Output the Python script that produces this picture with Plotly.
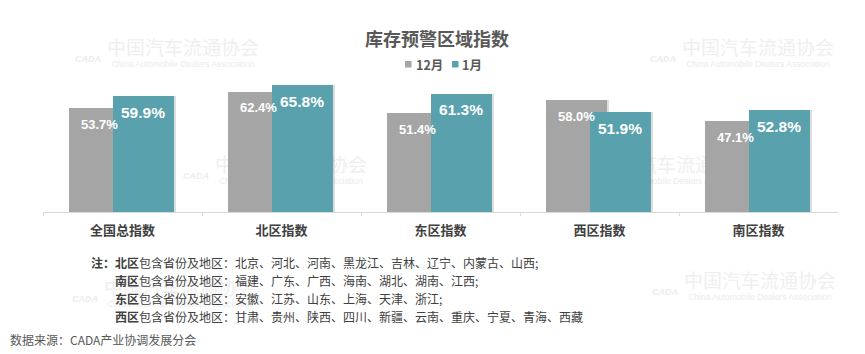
import plotly.graph_objects as go

W, H = 865, 354

# ---------------- data ----------------
categories = ["全国总指数", "北区指数", "东区指数", "西区指数", "南区指数"]
series_names = ["12月", "1月"]
values_dec = [53.7, 62.4, 51.4, 58.0, 47.1]
values_jan = [59.9, 65.8, 61.3, 51.9, 52.8]

title_text = "库存预警区域指数"
note_lines = [
    ("注：", "北区", "包含省份及地区：北京、河北、河南、黑龙江、吉林、辽宁、内蒙古、山西;"),
    ("", "南区", "包含省份及地区：福建、广东、广西、海南、湖北、湖南、江西;"),
    ("", "东区", "包含省份及地区：安徽、江苏、山东、上海、天津、浙江;"),
    ("", "西区", "包含省份及地区：甘肃、贵州、陕西、四川、新疆、云南、重庆、宁夏、青海、西藏"),
]
source_text = "数据来源：CADA产业协调发展分会"

# ---------------- styles ----------------
GRAY = "#A5A5A5"
TEAL = "#5AA1AE"
TXT = "#404040"
CJK = "Noto Sans CJK SC, Noto Sans, sans-serif"
NUM = "Liberation Sans, Arial, sans-serif"

# bar geometry (category units)
BAR_W = 0.384
OFF_DEC = -0.336
OFF_JAN = -0.060
SHADOW = 0.014

fig = go.Figure()

# ---- watermark layer (subplot xy, drawn beneath bars) ----
wm_cn = "中国汽车流通协会"
wm_en = "China Automobile Dealers Association"
wm_pos = [(183, 50), (758, 50), (291, 167), (676, 167), (760, 283), (180, 290)]
fig.add_trace(go.Scatter(
    x=[p[0] for p in wm_pos], y=[p[1] for p in wm_pos], mode="text",
    text=[wm_cn] * len(wm_pos),
    textfont=dict(family="Noto Sans CJK SC", size=19, color="#EFEFEF"),
    hoverinfo="skip", showlegend=False, xaxis="x", yaxis="y", cliponaxis=False))
fig.add_trace(go.Scatter(
    x=[p[0] for p in wm_pos], y=[p[1] + 15 for p in wm_pos], mode="text",
    text=[wm_en] * len(wm_pos),
    textfont=dict(family="Liberation Sans, Arial, sans-serif", size=8.5, color="#EBEBEB"),
    hoverinfo="skip", showlegend=False, xaxis="x", yaxis="y", cliponaxis=False))
fig.add_trace(go.Scatter(
    x=[p[0] - 95 for p in wm_pos], y=[p[1] + 10 for p in wm_pos], mode="text",
    text=["<i><b>CADA</b></i>"] * len(wm_pos),
    textfont=dict(family="Liberation Sans, Arial, sans-serif", size=9, color="#EDEDED"),
    hoverinfo="skip", showlegend=False, xaxis="x", yaxis="y", cliponaxis=False))

# ---- bars (subplot x2y2) ----
for vals, off, color, name in [(values_dec, OFF_DEC, GRAY, series_names[0]),
                               (values_jan, OFF_JAN, TEAL, series_names[1])]:
    fig.add_trace(go.Bar(
        x=categories, y=vals, width=BAR_W, offset=off + SHADOW,
        marker=dict(color="rgba(0,0,0,0.13)", line=dict(width=0)),
        hoverinfo="skip", showlegend=False, xaxis="x2", yaxis="y2"))
    fig.add_trace(go.Bar(
        x=categories, y=vals, width=BAR_W, offset=off, name=name,
        marker=dict(color=color, line=dict(width=0)),
        showlegend=False, xaxis="x2", yaxis="y2"))

# value labels
annotations = []
for vals, off, size in [(values_dec, OFF_DEC, 13), (values_jan, OFF_JAN, 15.5)]:
    for i, v in enumerate(vals):
        annotations.append(dict(
            x=i + off + BAR_W / 2, y=v, xref="x2", yref="y2", yshift=-16,
            text=f"<b>{v:.1f}%</b>", showarrow=False,
            font=dict(family=NUM, size=size, color="white"),
            xanchor="center", yanchor="middle"))

# title
annotations.append(dict(x=437 / W, y=1 - 38 / H, xref="paper", yref="paper",
                        text=f"<b>{title_text}</b>", showarrow=False,
                        font=dict(family=CJK, size=18, color="#595959"),
                        xanchor="center", yanchor="middle"))
# legend texts
annotations.append(dict(x=414 / W, y=1 - 64 / H, xref="paper", yref="paper",
                        text=f"<b>{series_names[0]}</b>", showarrow=False,
                        font=dict(family=CJK, size=12.5, color="#595959"),
                        xanchor="left", yanchor="middle"))
annotations.append(dict(x=460 / W, y=1 - 64 / H, xref="paper", yref="paper",
                        text=f"<b>{series_names[1]}</b>", showarrow=False,
                        font=dict(family=CJK, size=12.5, color="#595959"),
                        xanchor="left", yanchor="middle"))

# notes
note_y = [262, 280, 298, 316]
for (pre, region, rest), yy in zip(note_lines, note_y):
    x0 = 113 - (24 if pre else 0)
    annotations.append(dict(x=x0 / W, y=1 - yy / H, xref="paper", yref="paper",
                            text=f"<b>{pre}{region}</b>{rest}", showarrow=False,
                            font=dict(family=CJK, size=12, color=TXT),
                            xanchor="left", yanchor="middle"))
annotations.append(dict(x=8 / W, y=1 - 339 / H, xref="paper", yref="paper",
                        text=source_text, showarrow=False,
                        font=dict(family=CJK, size=12, color="#595959"),
                        xanchor="left", yanchor="middle"))

shapes = [
    dict(type="rect", xref="paper", yref="paper",
         x0=405 / W, x1=411.5 / W, y0=1 - 67.5 / H, y1=1 - 61 / H,
         fillcolor=GRAY, line=dict(width=0)),
    dict(type="rect", xref="paper", yref="paper",
         x0=452 / W, x1=458.5 / W, y0=1 - 67.5 / H, y1=1 - 61 / H,
         fillcolor=TEAL, line=dict(width=0)),
]

fig.update_layout(
    width=W, height=H,
    margin=dict(l=0, r=0, t=0, b=0, pad=0),
    paper_bgcolor="white", plot_bgcolor="rgba(0,0,0,0)",
    barmode="overlay", bargap=0,
    showlegend=False,
    annotations=annotations, shapes=shapes,
    xaxis=dict(domain=[0, 1], range=[0, W], visible=False, fixedrange=True),
    yaxis=dict(domain=[0, 1], range=[H, 0], visible=False, fixedrange=True),
    xaxis2=dict(domain=[43 / W, 838 / W], anchor="y2",
                type="category", categoryorder="array", categoryarray=categories,
                showline=True, linecolor="#D9D9D9", linewidth=1,
                ticks="outside", tickson="boundaries", ticklen=3, tickcolor="#D9D9D9",
                ticklabelstandoff=6,
                showgrid=False, zeroline=False,
                tickfont=dict(family=CJK, size=13, color=TXT, weight="bold")),
    yaxis2=dict(domain=[(H - 212) / H, (H - 77.25) / H], anchor="x2",
                range=[0, 70], visible=False, showgrid=False, zeroline=False),
)

fig.write_html("out.html")
